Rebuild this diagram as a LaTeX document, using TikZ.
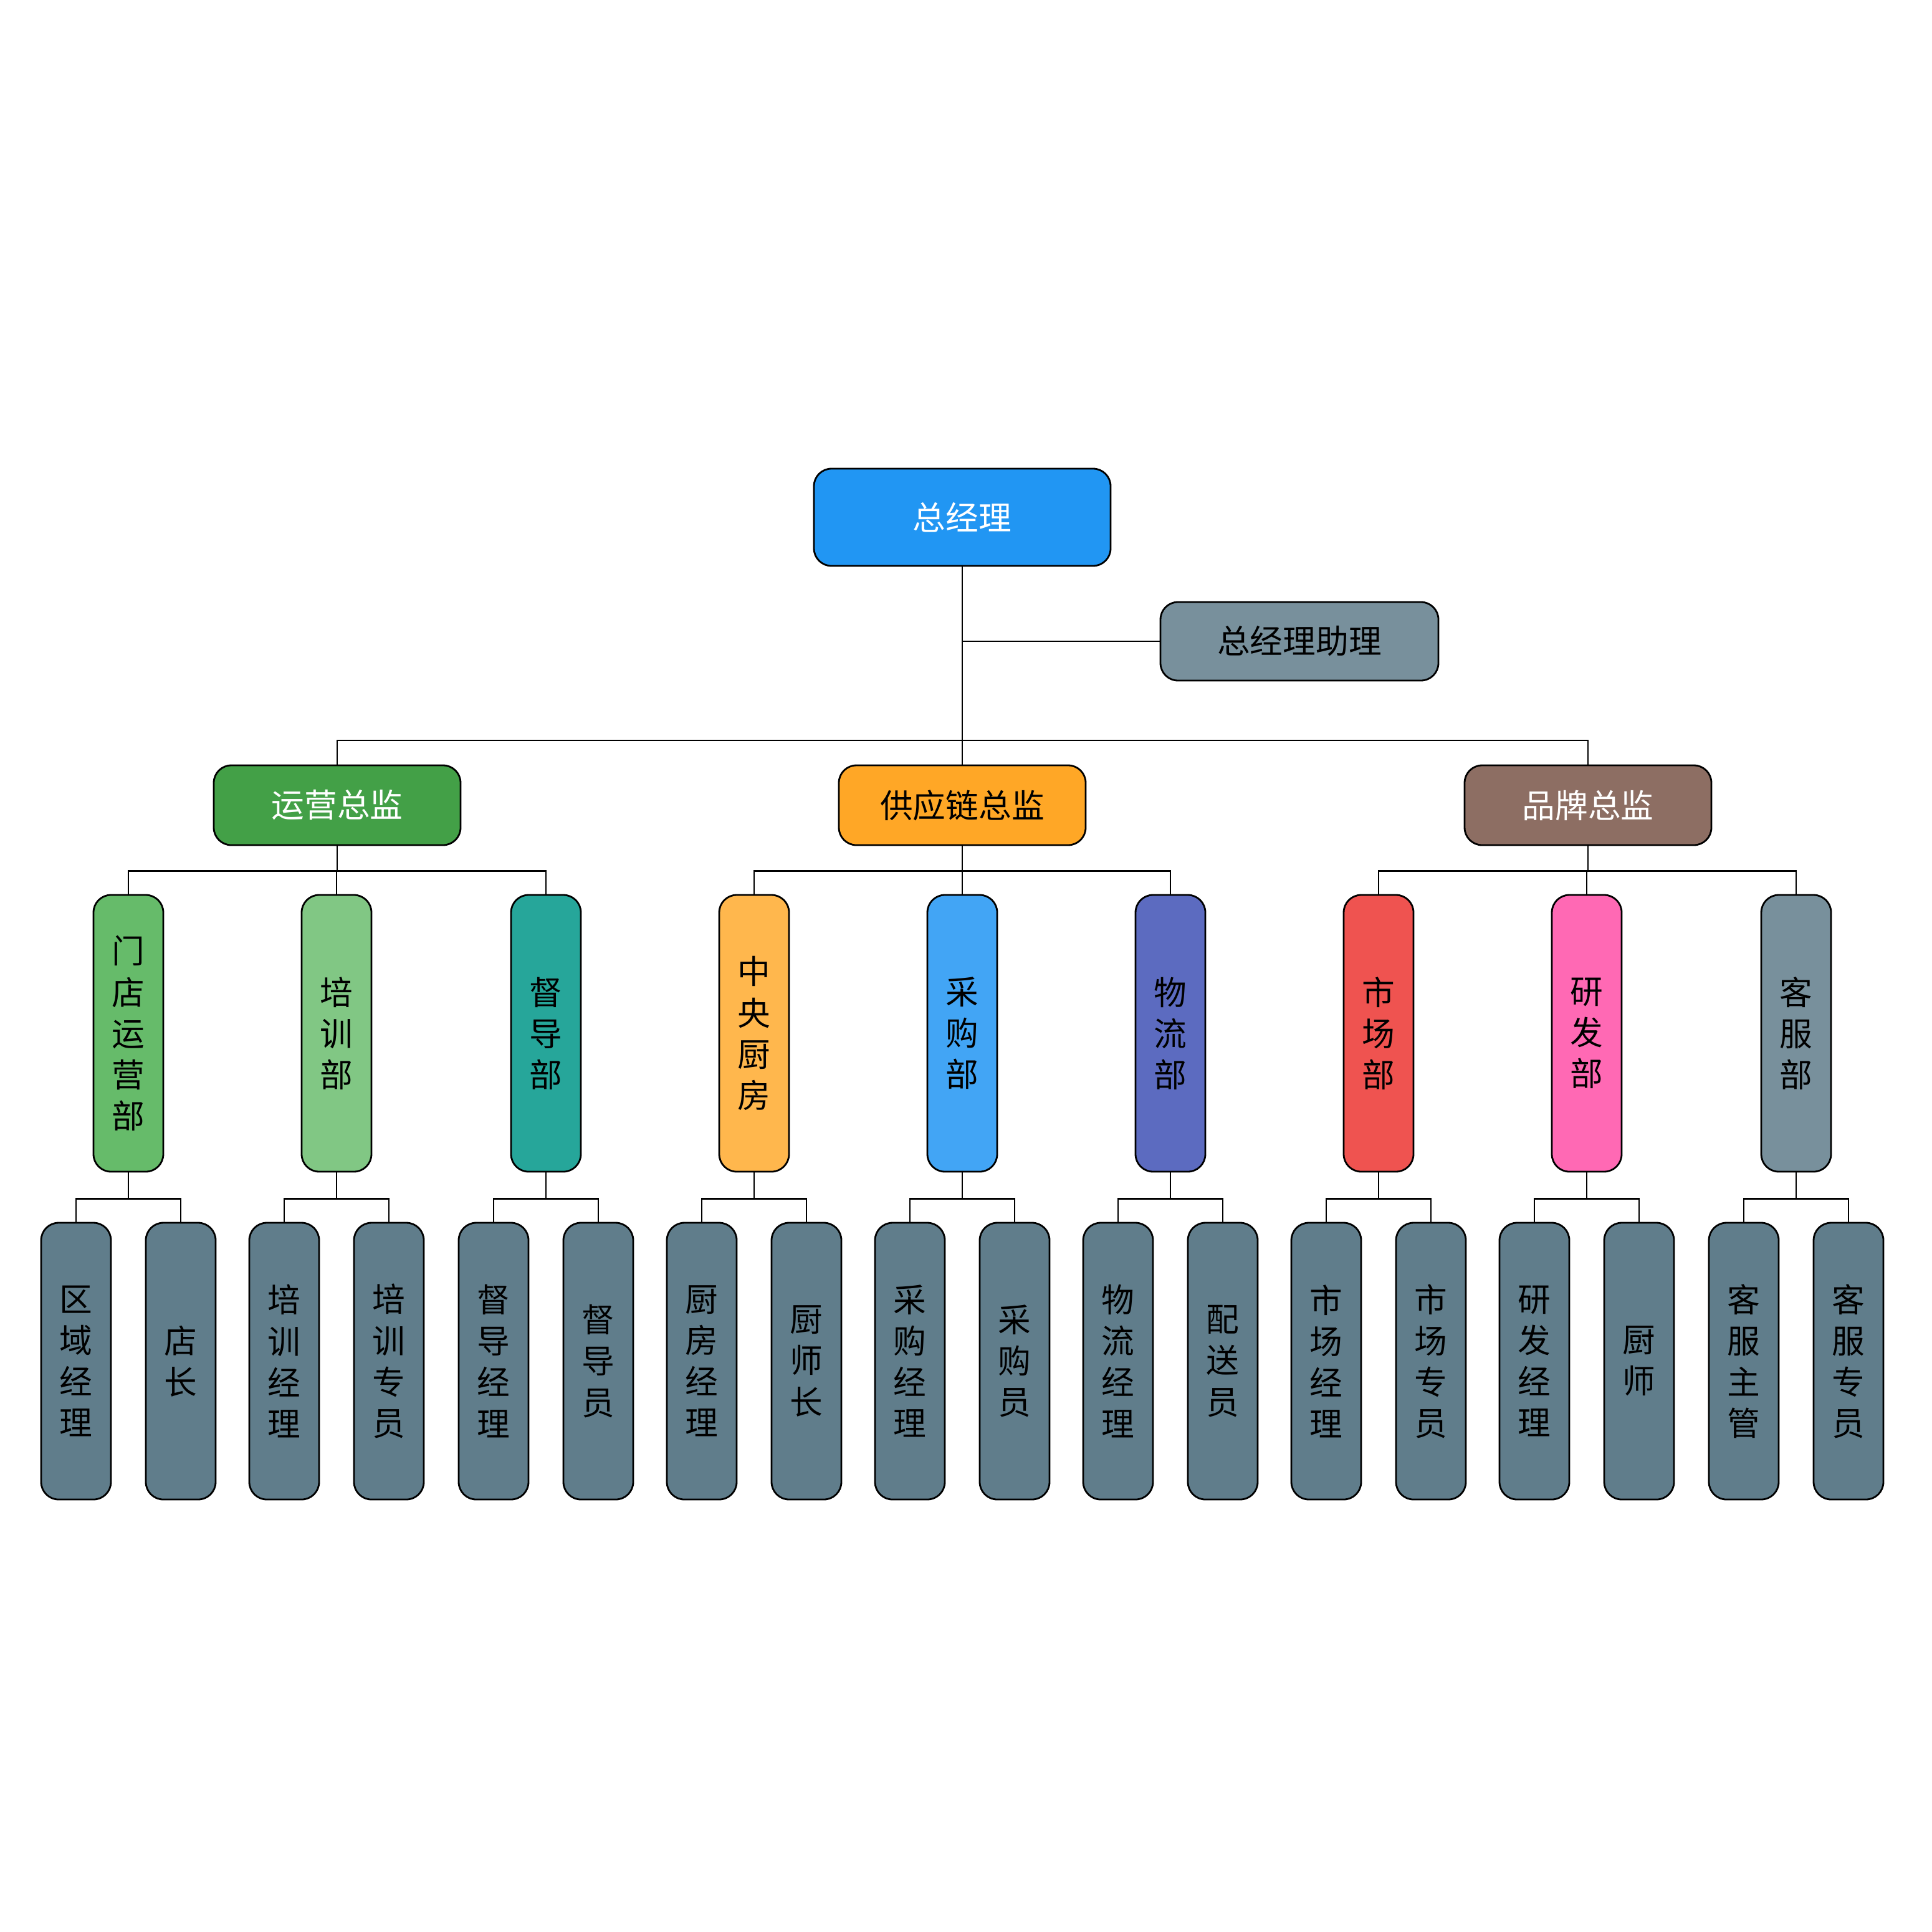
\documentclass[tikz,border=0pt]{standalone}
\usepackage{fontspec}
\newfontfamily\cjk{Noto Sans CJK SC}
\usetikzlibrary{positioning}
\definecolor{ceoblue}{HTML}{2196F3}
\definecolor{asstgray}{HTML}{78909C}
\definecolor{opsgreen}{HTML}{43A047}
\definecolor{supplyorange}{HTML}{FFA726}
\definecolor{brandbrown}{HTML}{8D6E63}
\definecolor{leafgray}{HTML}{607D8B}
\definecolor{c1}{HTML}{66BB6A}
\definecolor{c2}{HTML}{81C784}
\definecolor{c3}{HTML}{26A69A}
\definecolor{c4}{HTML}{FFB74D}
\definecolor{c5}{HTML}{42A5F5}
\definecolor{c6}{HTML}{5C6BC0}
\definecolor{c7}{HTML}{EF5350}
\definecolor{c8}{HTML}{FF69B4}
\definecolor{c9}{HTML}{78909C}
\tikzset{
  box/.style={draw, thin, rounded corners=4pt, font=\cjk\fontsize{7.5}{9.4}\selectfont, align=center, inner sep=0pt},
  head/.style={box, minimum width=1.98cm, minimum height=0.64cm},
  dept/.style={box, minimum width=0.56cm, minimum height=2.22cm},
  link/.style={thin}
}
\begin{document}
\begin{tikzpicture}
    \useasboundingbox (0,0) rectangle (15.5,-15.5);

    % Top level
    \node[box, fill=ceoblue, text=white, minimum width=2.38cm, minimum height=0.78cm] (ceo) at (7.72,-4.15) {总经理};
    \node[box, fill=asstgray, minimum width=2.23cm, minimum height=0.63cm] (asst) at (10.425,-5.145) {总经理助理};
    \coordinate (hub) at (7.72,-5.94);
    \draw[link] (ceo.south) -- (hub);
    \draw[link] (asst.west) -- (asst.west -| ceo.south);

    % Directors
    \node[head, fill=opsgreen, text=white] (ops) at (2.705,-6.46) {运营总监};
    \node[head, fill=supplyorange] (supply) at (7.72,-6.46) {供应链总监};
    \node[head, fill=brandbrown, text=white] (brand) at (12.74,-6.46) {品牌总监};
    \foreach \d in {ops,supply,brand}
        \draw[link] (hub) -| (\d.north);

    % Departments and their staff
    \foreach \i/\x/\top/\txt/\la/\lb in {
        1/1.03/ops/门\\店\\运\\营\\部/区\\域\\经\\理/店\\长,
        2/2.70/ops/培\\训\\部/培\\训\\经\\理/培\\训\\专\\员,
        3/4.38/ops/督\\导\\部/督\\导\\经\\理/督\\导\\员,
        4/6.05/supply/中\\央\\厨\\房/厨\\房\\经\\理/厨\\师\\长,
        5/7.72/supply/采\\购\\部/采\\购\\经\\理/采\\购\\员,
        6/9.39/supply/物\\流\\部/物\\流\\经\\理/配\\送\\员,
        7/11.06/brand/市\\场\\部/市\\场\\经\\理/市\\场\\专\\员,
        8/12.73/brand/研\\发\\部/研\\发\\经\\理/厨\\师,
        9/14.41/brand/客\\服\\部/客\\服\\主\\管/客\\服\\专\\员}{
        \node[dept, fill=c\i] (d\i) at (\x,-8.29) {\txt};
        \draw[link] (\top.south) -- ++(0,-0.2) -| (d\i.north);
        \node[dept, fill=leafgray] (l\i a) at (\x-0.42,-10.92) {\la};
        \node[dept, fill=leafgray] (l\i b) at (\x+0.42,-10.92) {\lb};
        \draw[link] (d\i.south) -- ++(0,-0.21) -| (l\i a.north);
        \draw[link] (d\i.south) -- ++(0,-0.21) -| (l\i b.north);
    }
\end{tikzpicture}
\end{document}
